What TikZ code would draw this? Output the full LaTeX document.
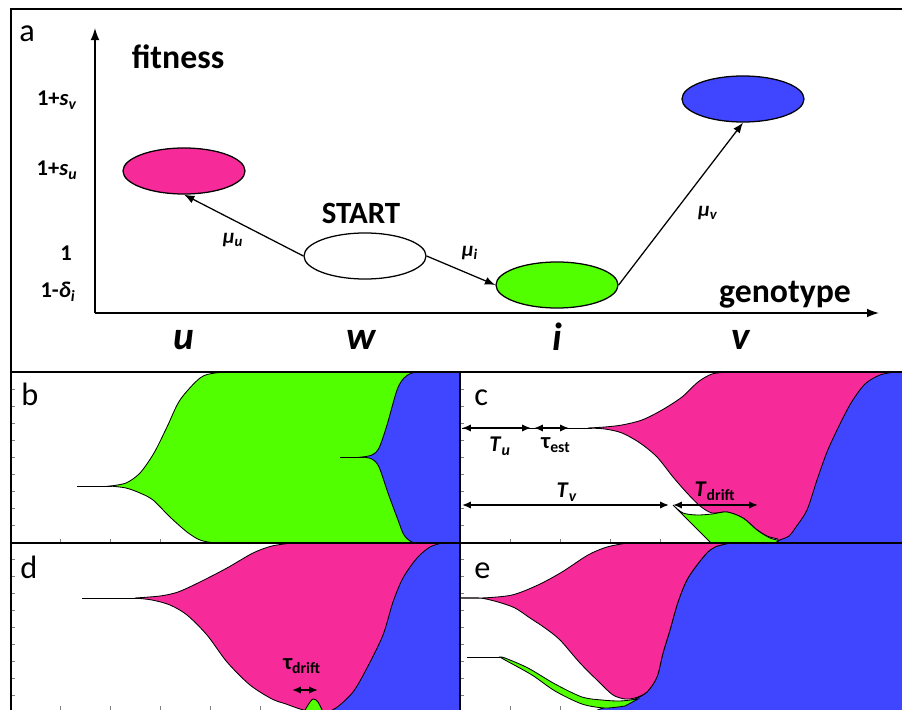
\documentclass[tikz,border=0pt]{standalone}
\usepackage{fontspec}
\setmainfont{Carlito}
\usetikzlibrary{arrows.meta,shapes.geometric}
\definecolor{Rose}{HTML}{F62B99}
\definecolor{Lime}{HTML}{52FF00}
\definecolor{Cobalt}{HTML}{4046FF}

\begin{document}
\begin{tikzpicture}[
    x=0.025cm, y=-0.025cm,
    geno/.style={draw=black, line width=0.9pt, ellipse, minimum width=3.05cm, minimum height=1.15cm, inner sep=0pt},
    mut/.style={-{Latex[length=2.6mm,width=2mm]}, line width=0.9pt},
    axis/.style={-{Latex[length=3mm,width=2.2mm]}, line width=1.1pt},
    span/.style={{Latex[length=2.2mm,width=1.8mm]}-{Latex[length=2.2mm,width=1.8mm]}, line width=1.1pt},
    frame/.style={line width=1.4pt},
    muller/.style={draw=black, line width=0.6pt},
    tick/.style={gray, line width=0.4pt},
    panel/.style={font=\fontsize{23}{26}\selectfont, anchor=base west, inner sep=0pt},
    big/.style={font=\bfseries\fontsize{24}{28}\selectfont},
    lvl/.style={font=\bfseries\fontsize{16}{18}\selectfont},
    gene/.style={font=\bfseries\itshape\fontsize{28}{32}\selectfont},
    rate/.style={font=\bfseries\fontsize{15}{17}\selectfont},
    tlab/.style={font=\bfseries\fontsize{16}{18}\selectfont, inner sep=0pt}
  ]
  \useasboundingbox (0,0) rectangle (902,710);

  \coordinate (O) at (95,313);
  \coordinate (ytop) at (95,28);
  \coordinate (xend) at (879,313);
  \draw[axis] (O) -- (ytop);
  \draw[axis] (O) -- (xend);
  \node[big] (fit) at (178,57) {fitness};
  \node[big] (gty) at (785,295) {genotype};
  \node[lvl] (lsv) at (57,100) {1+\textit{s}\textsubscript{\textit{v}}};
  \node[lvl] (lsu) at (57,170) {1+\textit{s}\textsubscript{\textit{u}}};
  \node[lvl] (lone) at (66,253) {1};
  \node[lvl] (ldi) at (58,292) {1-\textit{δ}\textsubscript{\textit{i}}};

  \node[geno, fill=Rose] (u) at (184,171) {};
  \node[geno, fill=white] (w) at (365,256) {};
  \node[geno, fill=Lime] (i) at (557,285) {};
  \node[geno, fill=Cobalt] (v) at (743,99) {};
  \node[big, font=\bfseries\fontsize{22}{26}\selectfont] (start) at (361,213) {START};
  \draw[mut] (w.west) -- (u.south);
  \draw[mut] (w.east) -- (i.west);
  \draw[mut] (i.east) -- (v.south);
  \node[rate] (mu) at (233,240) {\textit{μ}\textsubscript{\textit{u}}};
  \node[rate] (mi) at (470,253) {\textit{μ}\textsubscript{\textit{i}}};
  \node[rate] (mv) at (708,213) {\textit{μ}\textsubscript{\textit{v}}};
  \node[gene] (gu) at (184,340) {u};
  \node[gene] (gw) at (361,340) {w};
  \node[gene] (gi) at (557,337) {i};
  \node[gene] (gv) at (741,340) {v};

  \foreach \t in {1,...,19} {
    \draw[tick] (11,372+17*\t) -- ++(4,0);
    \draw[tick] (460,372+17*\t) -- ++(4,0);
  }
  \foreach \x in {60,110,...,460} {
    \draw[tick] (\x,543) -- ++(0,-4);
    \draw[tick] (\x,710) -- ++(0,-4);
    \draw[tick] (\x+450,543) -- ++(0,-4);
    \draw[tick] (\x+450,710) -- ++(0,-4);
  }

  \begin{scope}
    \clip (11,372) rectangle (460,543);
    \draw[muller] (77,486) -- (112,486);
    \filldraw[muller, fill=Lime] plot[smooth] coordinates {(110,486) (126,483) (140,473) (154,453) (167,427) (180,400) (200,378) (215,373) (235,372)}
      -- (462,372) -- (462,545)
      -- plot[smooth] coordinates {(235,544) (215,543) (200,540) (187,532) (170,517) (153,500) (140,493) (126,488) (110,486)} -- cycle;
    \draw[muller] (340,457) -- (364,457);
    \filldraw[muller, fill=Cobalt] plot[smooth] coordinates {(362,457) (372,455) (379,448) (387,425) (397,390) (404,378) (412,373) (425,372)}
      -- (462,372) -- (462,545)
      -- plot[smooth] coordinates {(425,544) (412,542) (404,535) (398,520) (388,493) (379,467) (372,459) (362,457)} -- cycle;
  \end{scope}

  \begin{scope}
    \clip (460,372) rectangle (904,543);
    \filldraw[muller, fill=Rose] plot[smooth] coordinates {(588,428) (605,427) (622,425) (642,420) (662,410) (682,397) (698,382) (712,374) (728,372)}
      -- (904,372) -- (904,545) -- (778,545)
      -- plot[smooth] coordinates {(778,539) (767,536) (756,529) (743,518) (727,512) (712,513) (700,506) (687,493) (673,477) (657,457) (640,443) (622,433) (605,429) (588,428)} -- cycle;
    \filldraw[muller, fill=Lime] plot[smooth] coordinates {(673,505) (683,513) (697,515) (712,514) (727,512) (743,518) (757,530) (770,538) (782,541)}
      -- (782,545) -- (713,545) -- cycle;
    \filldraw[muller, fill=Cobalt] plot[smooth] coordinates {(772,545) (780,540) (789,536) (796,527) (807,510) (817,480) (827,452) (838,428) (851,403) (865,384) (880,375) (895,372)}
      -- (904,372) -- (904,545) -- cycle;
  \end{scope}

  \begin{scope}
    \clip (11,543) rectangle (460,712);
    \draw[muller] (82,598) -- (140,598);
    \filldraw[muller, fill=Rose] plot[smooth] coordinates {(135,598) (160,596) (178,592) (200,582) (227,568) (253,553) (272,546) (292,543)}
      -- (462,543) -- (462,714)
      -- plot[smooth] coordinates {(318,714) (300,709) (286,704) (272,699) (250,685) (227,662) (207,635) (187,615) (170,605) (152,600) (135,598)} -- cycle;
    \filldraw[muller, fill=Lime] plot[smooth] coordinates {(303,714) (308,705) (313,699) (318,702) (324,714)} -- cycle;
    \filldraw[muller, fill=Cobalt] plot[smooth] coordinates {(322,714) (336,708) (353,692) (367,668) (383,635) (393,602) (403,578) (417,558) (430,547) (442,543)}
      -- (462,543) -- (462,714) -- cycle;
  \end{scope}

  \begin{scope}
    \clip (460,543) rectangle (904,712);
    \filldraw[muller, fill=Cobalt] plot[smooth] coordinates {(730,543) (715,547) (705,555) (688,578) (678,602) (670,630) (663,653) (657,677) (647,692) (635,699) (620,703) (600,709) (590,714)}
      -- (904,714) -- (904,543) -- cycle;
    \filldraw[muller, fill=Rose] plot[smooth] coordinates {(458,598) (482,598) (512,595) (538,585) (562,572) (588,555) (607,547) (627,543)}
      -- plot[smooth] coordinates {(730,543) (715,547) (705,555) (688,578) (678,602) (670,630) (663,653) (657,677) (647,692) (635,698) (625,699) (613,695) (600,683) (580,663) (560,640) (545,628) (530,618) (515,608) (498,602) (480,598) (458,598)} -- cycle;
    \draw[muller] (467,657) -- (502,657);
    \filldraw[muller, fill=Lime] plot[smooth] coordinates {(500,657) (505,658) (528,668) (555,684) (582,697) (602,700) (620,701) (638,699)}
      -- plot[smooth] coordinates {(625,706) (605,708) (582,704) (555,691) (532,675) (505,660) (500,657)} -- cycle;
  \end{scope}

  \coordinate (tu0) at (462,428);
  \coordinate (tu1) at (531,428);
  \coordinate (te0) at (534,428);
  \coordinate (te1) at (569,428);
  \coordinate (stem) at (592,428);
  \coordinate (tv0) at (462,505);
  \coordinate (tv1) at (669,505);
  \coordinate (td0) at (673,505);
  \coordinate (td1) at (758,505);
  \draw[muller] (tu0) -- (stem);
  \draw[span] (tu0) -- (tu1);
  \draw[span] (te0) -- (te1);
  \draw[span] (tv0) -- (tv1);
  \draw[span] (td0) -- (td1);
  \node[tlab] (ltu) at (500,446) {\textit{T}\textsubscript{\textit{u}}};
  \node[tlab] (lte) at (556,445) {τ\textsubscript{est}};
  \node[tlab] (ltv) at (567,492) {\textit{T}\textsubscript{\textit{v}}};
  \node[tlab] (ltd) at (715,491) {\textit{T}\textsubscript{drift}};

  \coordinate (dd0) at (292,690);
  \coordinate (dd1) at (318,690);
  \draw[span] (dd0) -- (dd1);
  \node[tlab] (ldd) at (302,666) {τ\textsubscript{drift}};

  \node[panel] (pa) at (19,42) {a};
  \node[panel] (pb) at (21,405) {b};
  \node[panel] (pc) at (474,405) {c};
  \node[panel] (pd) at (20,578) {d};
  \node[panel] (pe) at (474,578) {e};

  \draw[frame] (902,9) -- (11,9) -- (11,710);
  \draw[frame] (11,372) -- (902,372);
  \draw[frame] (11,543) -- (902,543);
  \draw[frame] (460,372) -- (460,710);
\end{tikzpicture}
\end{document}
